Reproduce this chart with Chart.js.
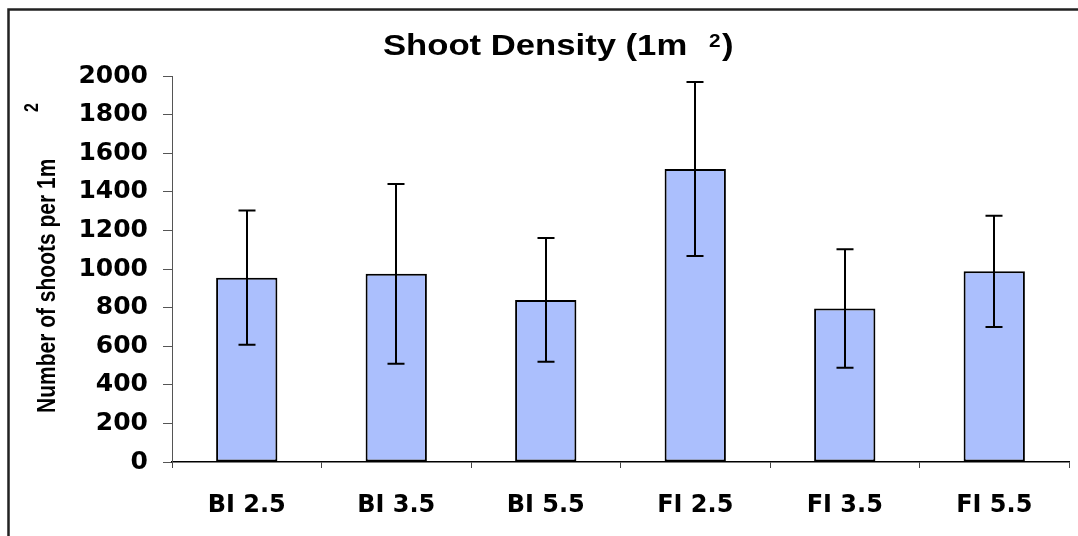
<!DOCTYPE html>
<html lang="en">

<head>
  <meta charset="UTF-8">
  <meta name="viewport" content="width=device-width, initial-scale=1.0">
  <title>Shoot Density</title>
  <style>
    html, body { margin: 0; padding: 0; background: #fff; }
    #wrap { width: 1078px; height: 536px; position: relative; }
  </style>
</head>

<body>

  <div id="wrap"><canvas id="densityChart"></canvas></div>

  <script src="https://cdn.jsdelivr.net/npm/chart.js@4.4.1/dist/chart.umd.min.js"></script>

  <script>
    // data
    const categories = ["BI 2.5", "BI 3.5", "BI 5.5", "FI 2.5", "FI 3.5", "FI 5.5"];
    const meanShoots = [955, 975, 840, 1518, 795, 988];
    const errShoots = [348, 466, 320, 451, 307, 288];
    const yTicks = [0, 200, 400, 600, 800, 1000, 1200, 1400, 1600, 1800, 2000];

    const titleFont = 'bold 30px "Liberation Sans", Arial, sans-serif';
    const tickFont = { family: '"DejaVu Sans", sans-serif', weight: 'bold' };

    // draw text squeezed/stretched along its own x direction
    function drawText(ctx, text, x, y, font, sx, angle) {
      ctx.save();
      ctx.translate(x, y);
      if (angle) ctx.rotate(angle);
      ctx.scale(sx, 1);
      ctx.font = font;
      ctx.fillStyle = "#000";
      ctx.textAlign = "left";
      ctx.textBaseline = "alphabetic";
      ctx.fillText(text, 0, 0);
      ctx.restore();
    }

    // outer frame + titles
    const decorPlugin = {
      id: "decor",
      beforeDraw(chart) {
        const ctx = chart.ctx;
        ctx.save();
        ctx.strokeStyle = "#222";
        ctx.lineWidth = 2.5;
        ctx.beginPath();
        ctx.moveTo(8.5, chart.height);
        ctx.lineTo(8.5, 9.5);
        ctx.lineTo(chart.width, 9.5);
        ctx.stroke();
        ctx.restore();
      },
      afterDraw(chart) {
        const ctx = chart.ctx;
        drawText(ctx, "Shoot Density (1m", 383, 55, titleFont, 1.155);
        drawText(ctx, "2", 709, 47, 'bold 18px "Liberation Sans", Arial, sans-serif', 1.155);
        drawText(ctx, ")", 722, 55, titleFont, 1.155);

        // y axis title, rotated; the glyph height is stretched like the rest
        ctx.save();
        ctx.translate(55, 413);
        ctx.rotate(-Math.PI / 2);
        ctx.scale(1, 1.25);
        ctx.font = 'bold 21px "Liberation Sans", Arial, sans-serif';
        ctx.fillStyle = "#000";
        ctx.textBaseline = "alphabetic";
        ctx.fillText("Number of shoots per 1m", 0, 0);
        ctx.restore();

        ctx.save();
        ctx.translate(38, 112);
        ctx.rotate(-Math.PI / 2);
        ctx.scale(1, 1.25);
        ctx.font = 'bold 16px "Liberation Sans", Arial, sans-serif';
        ctx.fillStyle = "#000";
        ctx.fillText("2", 0, 0);
        ctx.restore();
      }
    };

    // error bars drawn from the value scale
    const errorBarPlugin = {
      id: "errorBars",
      afterDatasetsDraw(chart) {
        const ctx = chart.ctx;
        const yScale = chart.scales.y;
        const meta = chart.getDatasetMeta(0);
        ctx.save();
        ctx.strokeStyle = "#000";
        ctx.lineWidth = 2;
        meta.data.forEach((bar, i) => {
          const x = Math.round(bar.x);
          const top = yScale.getPixelForValue(meanShoots[i] + errShoots[i]);
          const bot = yScale.getPixelForValue(meanShoots[i] - errShoots[i]);
          ctx.beginPath();
          ctx.moveTo(x, top);
          ctx.lineTo(x, bot);
          ctx.moveTo(x - 8.5, top);
          ctx.lineTo(x + 8.5, top);
          ctx.moveTo(x - 8.5, bot);
          ctx.lineTo(x + 8.5, bot);
          ctx.stroke();
        });
        ctx.restore();
      }
    };

    const ctx = document.getElementById("densityChart").getContext("2d");
    new Chart(ctx, {
      type: "bar",
      data: {
        labels: categories,
        datasets: [{
          label: "Shoot density",
          data: meanShoots,
          backgroundColor: "#abbffd",
          borderColor: "#000",
          borderWidth: 2,
          borderSkipped: false,
          categoryPercentage: 1,
          barPercentage: 0.41
        }]
      },
      options: {
        responsive: true,
        maintainAspectRatio: false,
        animation: false,
        layout: { padding: { top: 76, right: 9, left: 0, bottom: 0 } },
        plugins: {
          legend: { display: false },
          title: { display: false },
          tooltip: { enabled: false }
        },
        scales: {
          x: {
            afterFit(scale) { scale.height = 74; },
            grid: { drawOnChartArea: false, drawTicks: true, tickLength: 6, color: "#444", lineWidth: 1 },
            border: { color: "#000", width: 1.5 },
            ticks: { color: "#000", padding: 23, font: { ...tickFont, size: 24 } }
          },
          y: {
            min: yTicks[0],
            max: yTicks[yTicks.length - 1],
            afterFit(scale) { scale.width = 172; },
            afterBuildTicks(scale) { scale.ticks = yTicks.map(v => ({ value: v })); },
            grid: { drawOnChartArea: false, drawTicks: true, tickLength: 9, color: "#555", lineWidth: 1 },
            border: { color: "#555", width: 1 },
            ticks: {
              color: "#000",
              padding: 15,
              font: { ...tickFont, size: 25 },
              callback: v => String(v)
            }
          }
        }
      },
      plugins: [decorPlugin, errorBarPlugin]
    });
  </script>

</body>

</html>
